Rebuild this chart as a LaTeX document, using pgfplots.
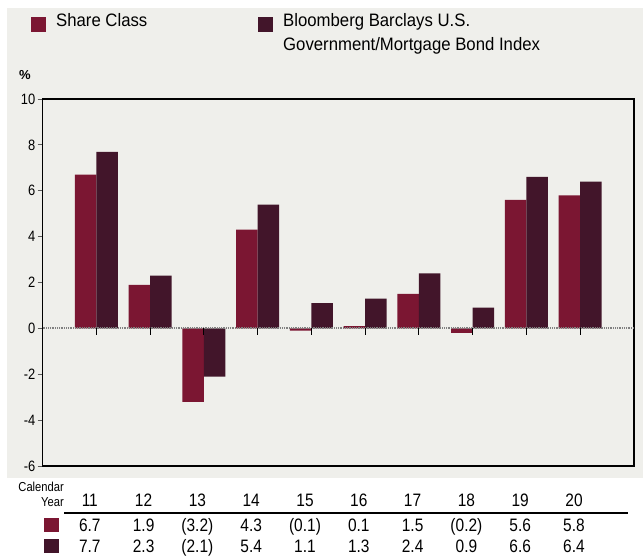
\documentclass[border=0pt]{standalone}
\usepackage{pgfplots}
\pgfplotsset{compat=1.18}
\usepackage{fontspec}
\setmainfont{Liberation Sans}
\newfontfamily\narrow{Liberation Sans}[FakeStretch=0.86]
\newfontfamily\semi{Liberation Sans}[FakeStretch=0.93]
\definecolor{sc}{HTML}{7B1632}
\definecolor{ix}{HTML}{42152A}
\definecolor{bgc}{HTML}{EFEFEB}
\begin{document}
\begin{tikzpicture}[x=1pt,y=1pt]
\fill[white] (0,0) rectangle (643,557);
\fill[bgc] (7,79) rectangle (643,549);
% legend
\fill[sc] (31,525) rectangle (46,540);
\node[anchor=base west, inner sep=0pt, font=\semi\fontsize{18}{20}\selectfont] at (56,530) {Share Class};
\fill[ix] (258,525) rectangle (273,540);
\node[anchor=base west, inner sep=0pt, font=\semi\fontsize{18}{20}\selectfont] at (283,530) {Bloomberg Barclays U.S.};
\node[anchor=base west, inner sep=0pt, font=\semi\fontsize{18}{20}\selectfont] at (283,506) {Government/Mortgage Bond Index};
\node[font=\fontsize{13}{13}\selectfont\bfseries, inner sep=0pt] at (25,482) {\%};
\begin{axis}[
  at={(42.5pt,91pt)}, anchor=south west, scale only axis,
  width=591.5pt, height=367pt,
  xmin=-1, xmax=10, ymin=-6, ymax=10,
  ytick={-6,-4,...,10}, xtick=\empty,
  ytick pos=left, tick align=outside, major tick length=5pt,
  tick style={gray!70!black, line width=0.8pt},
  axis line style={black, line width=1.5pt},
  /pgf/number format/assume math mode=true,
  yticklabel style={font=\narrow\fontsize{15}{15}\selectfont, inner sep=1pt, xshift=-1pt},
  clip=false,
]
\addplot[ybar, bar width=0.4, bar shift=-0.2, fill=sc, draw=none] coordinates {
(0,6.7) (1,1.9) (2,-3.2) (3,4.3) (4,-0.1) (5,0.1) (6,1.5) (7,-0.2) (8,5.6) (9,5.8)};
\addplot[ybar, bar width=0.4, bar shift=0.2, fill=ix, draw=none] coordinates {
(0,7.7) (1,2.3) (2,-2.1) (3,5.4) (4,1.1) (5,1.3) (6,2.4) (7,0.9) (8,6.6) (9,6.4)};
\draw[gray, line width=2pt, dash pattern=on 1pt off 0.8pt] (axis cs:-1,0) -- (axis cs:10,0);
\pgfplotsinvokeforeach{0,...,9}{\draw[black, line width=0.9pt] (axis cs:#1,0) -- ++(0pt,-7pt);}
\end{axis}
% table
\node[anchor=base east, inner sep=0pt, font=\narrow\fontsize{13}{13}\selectfont] at (64,65) {Calendar};
\node[anchor=base east, inner sep=0pt, font=\narrow\fontsize{13}{13}\selectfont] at (64,50) {Year};
\draw[black, line width=1.8pt] (64,44) -- (628,44);
\fill[sc] (44,25) rectangle (59,39);
\fill[ix] (44,4) rectangle (59,18);
\foreach \v [count=\i from 0] in {11,12,13,14,15,16,17,18,19,20}
  \node[anchor=base, inner sep=0pt, font=\narrow\fontsize{18}{18}\selectfont] at (89.8+53.8*\i,50) {\v};
\foreach \v [count=\i from 0] in {6.7,1.9,{(3.2)},4.3,{(0.1)},0.1,1.5,{(0.2)},5.6,5.8}
  \node[anchor=base, inner sep=0pt, font=\narrow\fontsize{18}{18}\selectfont] at (89.8+53.8*\i,25) {\v};
\foreach \v [count=\i from 0] in {7.7,2.3,{(2.1)},5.4,1.1,1.3,2.4,0.9,6.6,6.4}
  \node[anchor=base, inner sep=0pt, font=\narrow\fontsize{18}{18}\selectfont] at (89.8+53.8*\i,4) {\v};
\end{tikzpicture}
\end{document}
